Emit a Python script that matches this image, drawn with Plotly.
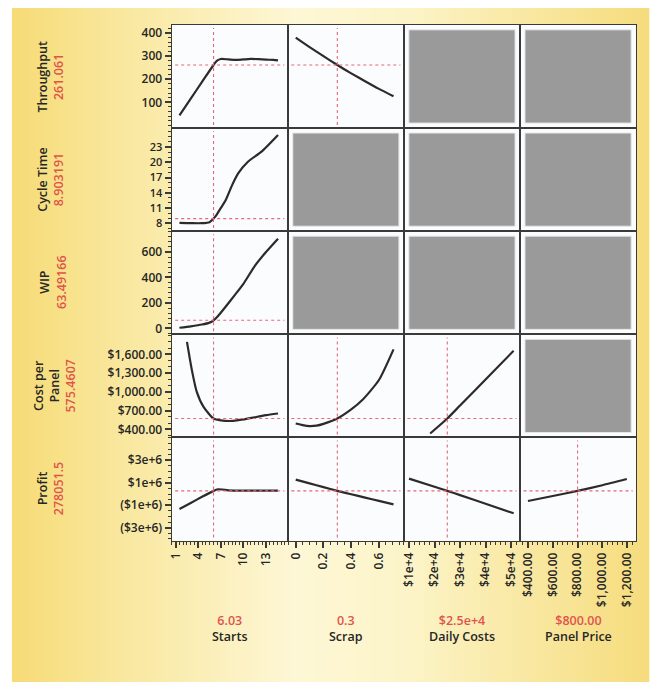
import plotly.graph_objects as go

# ---------------- data ----------------
factor_names = ["Starts", "Scrap", "Daily Costs", "Panel Price"]
factor_current = [6.03, 0.3, 2.5e4, 800]
factor_current_text = ["6.03", "0.3", "$2.5e+4", "$800.00"]

response_names = ["Throughput", "Cycle Time", "WIP", "Cost per<br>Panel", "Profit"]
response_current = [261.061, 8.903191, 63.49166, 575.4607, 278051.5]
response_current_text = ["261.061", "8.903191", "63.49166", "575.4607", "278051.5"]

# Throughput
tp_starts_x = [1.5, 3, 4.5, 6.03, 6.5, 7, 8, 9, 10, 11, 12, 13, 14, 14.6]
tp_starts_y = [44, 116, 188, 261, 280, 287, 285, 283, 285, 287, 286, 284, 283, 281]
tp_scrap_x = [0, 0.1, 0.2, 0.3, 0.4, 0.5, 0.6, 0.705]
tp_scrap_y = [379, 338, 299, 261, 225, 191, 158, 126]

# Cycle Time
ct_starts_x = [1.5, 3, 4.5, 5.5, 6.03, 6.5, 7, 7.6, 8.5, 9.3, 10.6, 12.4, 14.6]
ct_starts_y = [8.05, 8.0, 8.0, 8.2, 8.9, 9.8, 11.0, 12.4, 15.5, 17.8, 20.1, 22.1, 25.4]

# WIP
wip_starts_x = [1.5, 3, 4.5, 5.5, 6.03, 6.6, 7.5, 8.9, 10, 11.5, 13, 14.6]
wip_starts_y = [5, 16, 30, 45, 63, 95, 160, 265, 350, 490, 600, 705]

# Cost per Panel
cost_starts_x = [2.5, 3.15, 3.8, 4.7, 6.03, 7, 8.66, 10, 11.7, 13, 14.6]
cost_starts_y = [1800, 1348, 1000, 760, 575, 545, 537, 560, 600, 628, 655]
cost_scrap_x = [0, 0.05, 0.1, 0.15, 0.2, 0.3, 0.4, 0.48, 0.6, 0.705]
cost_scrap_y = [495, 470, 455, 462, 490, 575, 720, 870, 1190, 1680]
cost_daily_x = [1.83e4, 2.5e4, 3e4, 4e4, 5.1e4]
cost_daily_y = [335, 575, 783, 1199, 1657]

# Profit
pr_starts_x = [1.5, 3, 4.5, 6.03, 6.6, 7.2, 8, 10, 12, 14.6]
pr_starts_y = [-1.34e6, -0.8e6, -0.25e6, 0.278e6, 0.42e6, 0.40e6, 0.33e6, 0.30e6, 0.30e6, 0.30e6]
pr_scrap_x = [0, 0.1, 0.2, 0.3, 0.4, 0.5, 0.6, 0.705]
pr_scrap_y = [1.28e6, 0.95e6, 0.61e6, 0.278e6, -0.02e6, -0.32e6, -0.61e6, -0.92e6]
pr_daily_x = [1e4, 2e4, 2.5e4, 3e4, 4e4, 5.1e4]
pr_daily_y = [1.37e6, 0.64e6, 0.278e6, -0.10e6, -0.87e6, -1.72e6]
pr_price_x = [400, 600, 800, 1000, 1197]
pr_price_y = [-0.62e6, -0.18e6, 0.278e6, 0.78e6, 1.33e6]

# Tick labels
starts_ticks = [1, 4, 7, 10, 13]
starts_ticktext = ["1", "4", "7", "10", "13"]
scrap_ticks = [0, 0.2, 0.4, 0.6]
scrap_ticktext = ["0", "0.2", "0.4", "0.6"]
daily_ticks = [1e4, 2e4, 3e4, 4e4, 5e4]
daily_ticktext = ["$1e+4", "$2e+4", "$3e+4", "$4e+4", "$5e+4"]
price_ticks = [400, 600, 800, 1000, 1200]
price_ticktext = ["$400.00", "$600.00", "$800.00", "$1,000.00", "$1,200.00"]

tp_ticks = [100, 200, 300, 400]
tp_ticktext = ["100", "200", "300", "400"]
ct_ticks = [8, 11, 14, 17, 20, 23]
ct_ticktext = ["8", "11", "14", "17", "20", "23"]
wip_ticks = [0, 200, 400, 600]
wip_ticktext = ["0", "200", "400", "600"]
cost_ticks = [400, 700, 1000, 1300, 1600]
cost_ticktext = ["$400.00", "$700.00", "$1,000.00", "$1,300.00", "$1,600.00"]
pr_ticks = [-3e6, -1e6, 1e6, 3e6]
pr_ticktext = ["($3e+6)", "($1e+6)", "$1e+6", "$3e+6"]

# ---------------- structure ----------------
curves = {
    (0, 0): (tp_starts_x, tp_starts_y),
    (0, 1): (tp_scrap_x, tp_scrap_y),
    (1, 0): (ct_starts_x, ct_starts_y),
    (2, 0): (wip_starts_x, wip_starts_y),
    (3, 0): (cost_starts_x, cost_starts_y),
    (3, 1): (cost_scrap_x, cost_scrap_y),
    (3, 2): (cost_daily_x, cost_daily_y),
    (4, 0): (pr_starts_x, pr_starts_y),
    (4, 1): (pr_scrap_x, pr_scrap_y),
    (4, 2): (pr_daily_x, pr_daily_y),
    (4, 3): (pr_price_x, pr_price_y),
}
x_ranges = [[0.47, 15.9], [-0.057, 0.78], [0.8e4, 5.35e4], [336, 1272]]
y_ranges = [[-11, 434], [6.42, 26.75], [-47, 764], [272, 1920], [-4.15e6, 5.03e6]]
x_tickinfo = [(starts_ticks, starts_ticktext, 0.5), (scrap_ticks, scrap_ticktext, 0.05),
              (daily_ticks, daily_ticktext, 2e3), (price_ticks, price_ticktext, 40)]
y_tickinfo = [(tp_ticks, tp_ticktext, 20, 12), (ct_ticks, ct_ticktext, 1, 11), (wip_ticks, wip_ticktext, 40, 12),
              (cost_ticks, cost_ticktext, 100, 12), (pr_ticks, pr_ticktext, 0.5e6, 12)]

W, H = 651, 687
X0, CW = 168, 117
Y0, CH = 24, 103.6
RED = "#e0544c"
FRAME = "#3a3a3a"
TXT = "#262626"
FONT = "Open Sans"


def px(x):
    return x / W


def py(y):
    return 1 - y / H


def lerp(a, b, t):
    return tuple(int(round(a[i] + (b[i] - a[i]) * t)) for i in range(3))


def grad(t):
    stops = [(0.0, (246, 219, 118)), (0.18, (249, 232, 160)), (0.45, (253, 247, 214)),
             (0.62, (252, 244, 200)), (1.0, (246, 220, 125))]
    for (t0, c0), (t1, c1) in zip(stops[:-1], stops[1:]):
        if t0 <= t <= t1:
            c = lerp(c0, c1, (t - t0) / (t1 - t0))
            return "rgb(%d,%d,%d)" % c
    return "rgb(%d,%d,%d)" % stops[-1][1]


fig = go.Figure()
shapes = []
annotations = []

# background gradient
N = 80
for i in range(N):
    xa = 7 + (648 - 7) * i / N
    xb = 7 + (648 - 7) * (i + 1) / N
    shapes.append(dict(type="rect", xref="paper", yref="paper", x0=px(xa), x1=px(xb) + 0.002,
                       y0=py(684), y1=py(7), fillcolor=grad((i + 0.5) / N),
                       line=dict(width=0), layer="below"))
# white grid area
shapes.append(dict(type="rect", xref="paper", yref="paper", x0=px(X0), x1=px(X0 + 4 * CW),
                   y0=py(Y0 + 5 * CH), y1=py(Y0), fillcolor="#fbfcfd", line=dict(width=0), layer="below"))

layout = dict(width=W, height=H, margin=dict(l=0, r=0, t=0, b=0),
              paper_bgcolor="white", plot_bgcolor="rgba(0,0,0,0)", showlegend=False,
              font=dict(family=FONT, size=12, color=TXT))

for r in range(5):
    for c in range(4):
        k = r * 4 + c + 1
        sfx = "" if k == 1 else str(k)
        xt, xtt, xminor = x_tickinfo[c]
        yt, ytt, yminor, yfs = y_tickinfo[r]
        layout["xaxis" + sfx] = dict(
            domain=[px(X0 + c * CW), px(X0 + (c + 1) * CW)], range=x_ranges[c], anchor="y" + sfx,
            showgrid=False, zeroline=False, showline=True, mirror=True, linecolor=FRAME, linewidth=1.3,
            ticks="outside" if r == 4 else "", showticklabels=(r == 4), tickmode="array",
            tickvals=xt, ticktext=xtt, tickangle=-90, ticklen=6, tickcolor=FRAME, tickwidth=1.5,
            tickfont=dict(family=FONT, size=12, color=TXT, weight=600),
            minor=dict(ticks="outside" if r == 4 else "", ticklen=3, tickmode="linear", dtick=xminor,
                       tick0=xt[0], tickcolor=FRAME, tickwidth=1),
            fixedrange=True)
        layout["yaxis" + sfx] = dict(
            domain=[py(Y0 + (r + 1) * CH), py(Y0 + r * CH)], range=y_ranges[r], anchor="x" + sfx,
            showgrid=False, zeroline=False, showline=True, mirror=True, linecolor=FRAME, linewidth=1.3,
            ticks="outside" if c == 0 else "", showticklabels=(c == 0), tickmode="array",
            tickvals=yt, ticktext=ytt, ticklen=6, tickcolor=FRAME, tickwidth=1.5,
            tickfont=dict(family=FONT, size=yfs, color=TXT, weight=600),
            minor=dict(ticks="outside" if c == 0 else "", ticklen=3, tickmode="linear", dtick=yminor,
                       tick0=yt[0], tickcolor=FRAME, tickwidth=1),
            fixedrange=True)

        if (r, c) in curves:
            xs, ys = curves[(r, c)]
            shapes.append(dict(type="line", xref="x" + sfx, yref="y" + sfx + " domain",
                               x0=factor_current[c], x1=factor_current[c], y0=0.03, y1=0.97,
                               line=dict(color="#e6677a", width=1.1, dash="dot")))
            shapes.append(dict(type="line", xref="x" + sfx + " domain", yref="y" + sfx,
                               x0=0.03, x1=0.97, y0=response_current[r], y1=response_current[r],
                               line=dict(color="#e6677a", width=1.1, dash="dot")))
            fig.add_trace(go.Scatter(x=xs, y=ys, mode="lines", xaxis="x" + sfx, yaxis="y" + sfx,
                                     line=dict(color="#2e2a2a", width=2.2, shape="spline", smoothing=0.6),
                                     hoverinfo="skip"))
        else:
            # empty trace so the subplot frame is drawn
            fig.add_trace(go.Scatter(x=[None], y=[None], mode="lines", xaxis="x" + sfx, yaxis="y" + sfx,
                                     hoverinfo="skip"))
            cx0 = X0 + c * CW
            cy0 = Y0 + r * CH
            shapes.append(dict(type="rect", xref="paper", yref="paper",
                               x0=px(cx0 + 5), x1=px(cx0 + CW - 5), y0=py(cy0 + CH - 5), y1=py(cy0 + 5),
                               fillcolor="#9a9a9a", line=dict(color="#e6e6e6", width=1), layer="below"))

# row labels
label_x = [45.5, 45.5, 48.5, 50, 45.5]
for r in range(5):
    annotations.append(dict(
        xref="paper", yref="paper", x=px(label_x[r]), y=py(Y0 + (r + 0.5) * CH),
        text=response_names[r] + "<br><span style='color:%s'>%s</span>" % (RED, response_current_text[r]),
        textangle=-90, showarrow=False, xanchor="center", yanchor="middle",
        font=dict(family=FONT, size=12.5, color=TXT, weight=600)))

# column labels
for c in range(4):
    annotations.append(dict(
        xref="paper", yref="paper", x=px(X0 + (c + 0.5) * CW), y=py(630),
        text="<span style='color:%s'>%s</span><br>%s" % (RED, factor_current_text[c], factor_names[c]),
        showarrow=False, xanchor="center", yanchor="middle",
        font=dict(family=FONT, size=12.5, color=TXT, weight=600)))

layout["shapes"] = shapes
layout["annotations"] = annotations
fig.update_layout(**layout)
fig.write_html("out.html", config={"displayModeBar": False},
               post_script="document.body.style.margin='0';document.body.style.overflow='hidden';")
